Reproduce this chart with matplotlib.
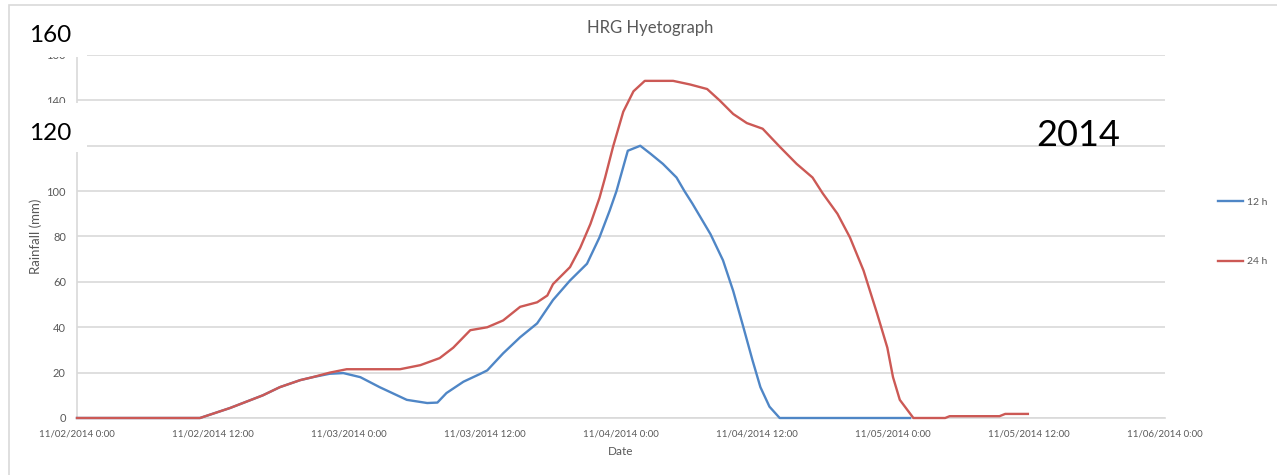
import matplotlib.pyplot as plt
from matplotlib.patches import Rectangle

# hours since 11/02/2014 0:00
horas_24 = [0, 10.85, 13.5, 16.4, 17.9, 19.7, 20.8, 22.3, 23.8, 28.5, 30.3, 32.0, 33.2,
            34.7, 36.2, 37.6, 39.1, 40.6, 41.5, 42.0, 43.5, 44.4, 45.3, 46.1, 46.6,
            47.3, 48.2, 49.1, 50.1, 52.6, 54.1, 55.6, 56.7, 57.9, 59.1, 60.5, 62.0,
            63.5, 64.9, 65.8, 67.1, 68.2, 69.4, 70.6, 71.5, 72.0, 72.6, 73.8, 76.6,
            77.0, 81.4, 81.9, 83.9]
lluvia_24 = [0, 0, 4.4, 10, 13.6, 16.7, 18, 20, 21.5, 21.5, 23.3, 26.4, 31,
             38.7, 40, 43, 49, 51, 54, 59, 66.5, 75, 85.5, 97, 106,
             119.6, 135, 144, 148.6, 148.6, 147, 145, 140, 134, 130, 127.5, 119.6,
             112, 106, 99, 90, 79.6, 65, 46, 31, 18, 8, 0, 0,
             0.8, 0.8, 1.8, 1.8]

horas_12 = [0, 10.85, 13.5, 16.4, 17.9, 19.7, 20.8, 22.3, 23.5, 25.0, 26.7, 29.1, 30.9,
            31.8, 32.6, 34.1, 35.6, 36.2, 37.6, 39.1, 40.6, 42.0, 43.5, 45.0, 46.1,
            47.0, 47.6, 48.6, 49.7, 50.6, 51.7, 52.9, 53.6, 54.3, 55.9, 57.0, 57.9,
            58.8, 59.6, 60.3, 61.1, 62.0, 73.5]
lluvia_12 = [0, 0, 4.4, 10, 13.6, 16.7, 18, 19.5, 19.8, 18, 13.6, 8, 6.6,
             6.8, 11, 16, 19.5, 21, 28.5, 35.6, 41.7, 52, 60.6, 68, 79.6,
             91.4, 100, 117.8, 120, 116.5, 112, 106, 100, 94.5, 81, 69.5, 56,
             40, 25.5, 13.6, 5, 0, 0]

ticks_x = [0, 12, 24, 36, 48, 60, 72, 84, 96]
etiquetas_x = ['11/02/2014 0:00', '11/02/2014 12:00', '11/03/2014 0:00',
               '11/03/2014 12:00', '11/04/2014 0:00', '11/04/2014 12:00',
               '11/05/2014 0:00', '11/05/2014 12:00', '11/06/2014 0:00']
ticks_y = [0, 20, 40, 60, 80, 100, 120, 140, 160]

plt.rcParams['font.family'] = ['Lato', 'DejaVu Sans']
gris = '#595959'

fig = plt.figure(figsize=(12.77, 4.75), dpi=100)
ax = fig.add_axes([77/1277, 1 - 418/475, (1165 - 77)/1277, (418 - 55)/475])

ax.plot(horas_12, lluvia_12, color='#4F86C6', lw=1.7, label='12 h', zorder=3, clip_on=False)
ax.plot(horas_24, lluvia_24, color='#CC5955', lw=1.7, label='24 h', zorder=3, clip_on=False)

ax.set_xlim(0, 96)
ax.set_ylim(0, 160)
ax.set_xticks(ticks_x)
ax.set_xticklabels(etiquetas_x)
ax.set_yticks(ticks_y)
ax.tick_params(axis='x', length=0, labelsize=7, colors=gris, pad=8)
ax.tick_params(axis='y', length=0, labelsize=8, colors=gris, pad=8)
ax.grid(axis='y', color='#D9D9D9', lw=1.2)
ax.set_axisbelow(True)
for s in ['top', 'right']:
    ax.spines[s].set_visible(False)
ax.spines['left'].set_color('#D9D9D9')
ax.spines['bottom'].set_color('#D9D9D9')
ax.spines['left'].set_linewidth(1.2)
ax.spines['bottom'].set_linewidth(1.2)

ax.set_xlabel('Date', fontsize=8.5, color=gris, labelpad=6)
ax.set_ylabel('Rainfall (mm)', fontsize=9.5, color=gris, labelpad=3)
fig.text(650/1277, 1 - 28/475, 'HRG Hyetograph', fontsize=12, color=gris,
         ha='center', va='center')

ax.legend(loc='center left', bbox_to_anchor=(1218/1277, 1 - 232/475),
          bbox_transform=fig.transFigure, frameon=False, fontsize=7.5,
          labelcolor=gris, labelspacing=4.8, handlelength=2.4,
          handletextpad=0.4, borderpad=0, borderaxespad=0)

# marco exterior
fig.patches.append(Rectangle((9/1277, -0.05), 1.1, 1 - 5/475 + 0.05,
                             transform=fig.transFigure, fill=False,
                             edgecolor='#D9D9D9', lw=1.2))

# parches blancos con las anotaciones
fig.patches.append(Rectangle((11/1277, 1 - 57/475), 76/1277, 39/475,
                             transform=fig.transFigure, facecolor='white',
                             edgecolor='none', zorder=5))
fig.patches.append(Rectangle((11/1277, 1 - 152/475), 76/1277, 49/475,
                             transform=fig.transFigure, facecolor='white',
                             edgecolor='none', zorder=5))
fig.text(50/1277, 1 - 35/475, '160', fontsize=17.5, color='black',
         ha='center', va='center', zorder=6)
fig.text(50/1277, 1 - 133/475, '120', fontsize=17.5, color='black',
         ha='center', va='center', zorder=6)
fig.text(1078/1277, 1 - 136/475, '2014', fontsize=26, color='black',
         ha='center', va='center', zorder=6)

plt.savefig('out.png', dpi=100)
